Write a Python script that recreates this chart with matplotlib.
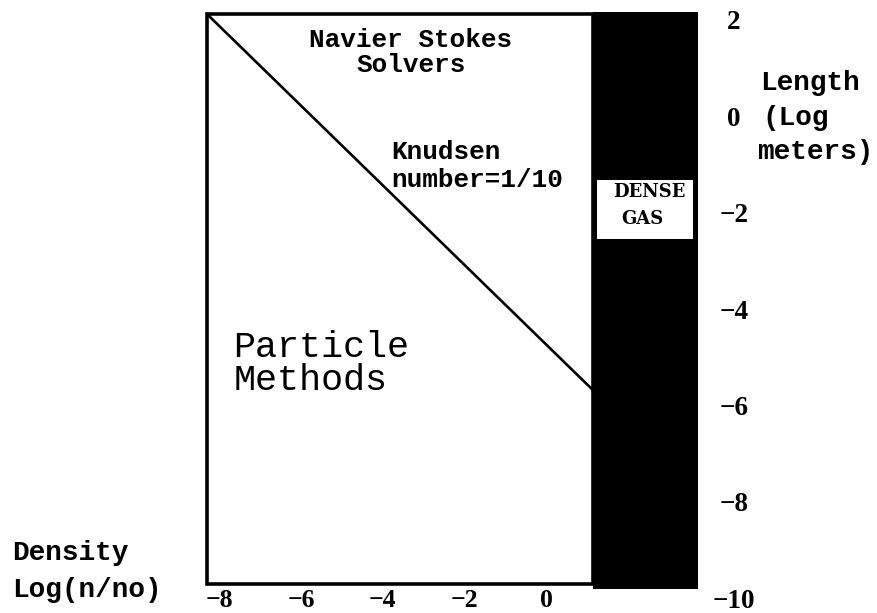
import matplotlib
matplotlib.use("Agg")
import matplotlib.pyplot as plt
from matplotlib.patches import Rectangle

# данные
x_ticks = [-8, -6, -4, -2, 0]
y_ticks = [2, 0, -2, -4, -6, -8, -10]

particle_x = [-8.30, 1.14]     # белая область (плотность)
particle_y = [-9.64, 2.18]     # длина
dense_x = [1.14, 3.71]         # плотный газ
dense_y = [-9.75, 2.22]
dense_label_x = [1.24, 3.59]
dense_label_y = [-2.48, -1.26]
knudsen_x = [-8.30, 1.14]      # линия Kn = 1/10
knudsen_y = [2.18, -5.62]

mono = "Liberation Mono"
serif = "Liberation Serif"

fig = plt.figure(figsize=(8.77, 6.13), dpi=100)
ax = fig.add_axes([205 / 877, 0.01925, (698 - 205) / 877, 0.98246 - 0.01925])
ax.set_xlim(-8.35, dense_x[1])
ax.set_ylim(-10.0, 2.25)
for s in ax.spines.values():
    s.set_visible(False)

# области
ax.add_patch(Rectangle((dense_x[0], dense_y[0]), dense_x[1] - dense_x[0],
                       dense_y[1] - dense_y[0], facecolor="black", edgecolor="none",
                       zorder=1))
ax.add_patch(Rectangle((particle_x[0], particle_y[0]), particle_x[1] - particle_x[0],
                       particle_y[1] - particle_y[0], facecolor="white",
                       edgecolor="black", lw=2.6, zorder=2, clip_on=False))
ax.add_patch(Rectangle((dense_label_x[0], dense_label_y[0]),
                       dense_label_x[1] - dense_label_x[0],
                       dense_label_y[1] - dense_label_y[0], facecolor="white",
                       edgecolor="none", zorder=3))
ax.plot(knudsen_x, knudsen_y, color="black", lw=1.9, zorder=4, clip_on=False)

# подписи внутри
ax.text(-3.31, 1.65, "Navier Stokes", family=mono, weight="bold", fontsize=18.7,
        ha="center", va="center", zorder=5)
ax.text(-3.31, 1.13, "Solvers", family=mono, weight="bold", fontsize=18.7,
        ha="center", va="center", zorder=5)
ax.text(-3.80, -0.68, "Knudsen", family=mono, weight="bold", fontsize=18.7,
        ha="left", va="center", zorder=5)
ax.text(-3.80, -1.26, "number=1/10", family=mono, weight="bold", fontsize=18.7,
        ha="left", va="center", zorder=5)
ax.text(-7.66, -4.73, "Particle", family=mono, fontsize=26.5,
        ha="left", va="center", zorder=5)
ax.text(-7.66, -5.43, "Methods", family=mono, fontsize=26.5,
        ha="left", va="center", zorder=5)
ax.text(2.53, -1.51, "DENSE", family="DejaVu Serif", weight="bold", fontsize=13,
        ha="center", va="center", zorder=5)
ax.text(2.34, -2.07, "GAS", family="DejaVu Serif", weight="bold", fontsize=13,
        ha="center", va="center", zorder=5)

# оси
ax.set_xticks(x_ticks)
ax.set_xticklabels([str(v).replace("-", "\u2212") for v in x_ticks])
ax.set_yticks(y_ticks)
ax.set_yticklabels([str(v).replace("-", "\u2212") for v in y_ticks])
ax.tick_params(axis="x", length=0, pad=-9)
ax.tick_params(axis="y", length=0, pad=26, labelleft=False, labelright=True)
for lbl in ax.get_xticklabels():
    lbl.set_family(serif)
    lbl.set_weight("bold")
    lbl.set_fontsize(18.5)
for lbl in ax.get_yticklabels():
    lbl.set_family(serif)
    lbl.set_weight("bold")
    lbl.set_fontsize(19.5)
    lbl.set_ha("center")
    lbl.set_va("center")

# подписи осей
fig.text(12 / 877, (613 - 553) / 613, "Density", family=mono, weight="bold",
         fontsize=20, ha="left", va="center")
fig.text(12 / 877, (613 - 590) / 613, "Log(n/no)", family=mono, weight="bold",
         fontsize=20, ha="left", va="center")
fig.text(760 / 877, (613 - 83) / 613, "Length", family=mono, weight="bold",
         fontsize=20, ha="left", va="center")
fig.text(762 / 877, (613 - 118) / 613, "(Log", family=mono, weight="bold",
         fontsize=20, ha="left", va="center")
fig.text(757 / 877, (613 - 152) / 613, "meters)", family=mono, weight="bold",
         fontsize=20, ha="left", va="center")

fig.savefig("out.png", dpi=100)
